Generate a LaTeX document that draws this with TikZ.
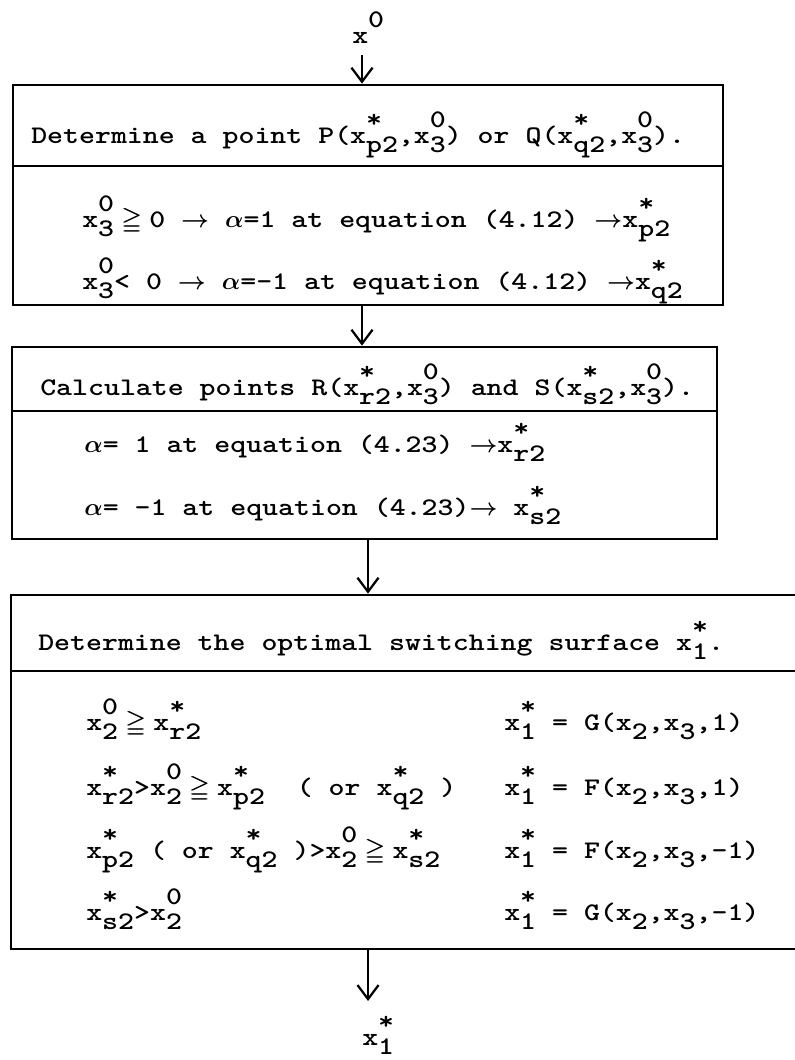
\documentclass[tikz,border=0pt]{standalone}
\usepackage{amssymb}
\usepackage{fontspec}
\newfontfamily\twfam{lmmonolt10-bold}[Extension=.otf,FakeStretch=1.2]
\usetikzlibrary{arrows.meta,fit}
\newcommand{\twfont}{\twfam\fontsize{18}{22}\selectfont\boldmath}
\newcommand{\xvar}[2]{x\rlap{\raisebox{.62em}{#1}}\raisebox{-.38em}{#2}}
\newcommand{\xsub}[1]{x\raisebox{-.38em}{#1}}
\newcommand{\xsup}[1]{x\raisebox{.62em}{#1}}
\newcommand{\twar}{$\rightarrow$}
\newcommand{\twal}{$\alpha$}
\newcommand{\twge}{\makebox[1.39em]{\rlap{$\geqq$}\hspace{.04em}$\geqq$}}

\begin{document}
\begin{tikzpicture}[x=0.025cm,y=-0.025cm,
        box/.style={draw,line width=2pt,inner sep=0pt},
        tw/.style={font=\twfont,anchor=base west,inner sep=0pt},
        arr/.style={line width=1.6pt,-{Straight Barb[length=10pt,width=15pt]}}]
        \useasboundingbox (0,0) rectangle (795,1060);
        \clip (0,0) rectangle (795,1060);
        \coordinate (ca) at (362,0);
        \coordinate (cb) at (368,0);

        \node (x0) at (352,43) [tw] {\xsup{0}};

        \node (t1) [box,fit={(13,85) (723,166)}] {};
        \node (b1) [box,fit={(13,166) (723,305)}] {};
        \node (t1txt) at (31,143) [tw] {Determine a point P(\xvar{*}{p2},\xvar{0}{3}) or Q(\xvar{*}{q2},\xvar{0}{3}).};
        \node (b1r1) at (82,227) [tw] {\xvar{0}{3}\twge0 \twar{} \twal=1 at equation (4.12) \twar{}\xvar{*}{p2}};
        \node (b1r2) at (82,289) [tw] {\xvar{0}{3}< 0 \twar{} \twal=-1 at equation (4.12) \twar\xvar{*}{q2}};

        \node (t2) [box,fit={(12,347) (717,411)}] {};
        \node (b2) [box,fit={(12,411) (717,539)}] {};
        \node (t2txt) at (40,395) [tw] {Calculate points R(\xvar{*}{r2},\xvar{0}{3}) and S(\xvar{*}{s2},\xvar{0}{3}).};
        \node (b2r1) at (84,452) [tw] {\twal= 1 at equation (4.23) \twar\xvar{*}{r2}};
        \node (b2r2) at (84,515) [tw] {\twal= -1 at equation (4.23)\twar{} \xvar{*}{s2}};

        \node (t3) [box,fit={(11,595) (840,671)}] {};
        \node (b3) [box,fit={(11,671) (840,949)}] {};
        \node (t3txt) at (38,650) [tw] {Determine the optimal switching surface \xvar{*}{1}.};
        \node (l1) at (86,730) [tw] {\xvar{0}{2}\twge\xvar{*}{r2}};
        \node (l2) at (86,795) [tw] {\xvar{*}{r2}>\xvar{0}{2}\twge\xvar{*}{p2}\ \ ( or \xvar{*}{q2} )};
        \node (l3) at (86,858) [tw] {\xvar{*}{p2} ( or \xvar{*}{q2} )>\xvar{0}{2}\twge\xvar{*}{s2}};
        \node (l4) at (86,920) [tw] {\xvar{*}{s2}>\xvar{0}{2}};
        \node (r1) at (504,730) [tw] {\xvar{*}{1} = G(\xsub{2},\xsub{3},1)};
        \node (r2) at (504,795) [tw] {\xvar{*}{1} = F(\xsub{2},\xsub{3},1)};
        \node (r3) at (504,858) [tw] {\xvar{*}{1} = F(\xsub{2},\xsub{3},-1)};
        \node (r4) at (504,920) [tw] {\xvar{*}{1} = G(\xsub{2},\xsub{3},-1)};

        \node (x1) at (362,1045) [tw] {\xvar{*}{1}};

        \draw[arr,shorten <=0.3cm] (x0.south -| ca) -- (t1.north -| ca);
        \draw[arr] (b1.south -| ca) -- (t2.north -| ca);
        \draw[arr] (b2.south -| cb) -- (t3.north -| cb);
        \draw[arr,shorten >=0.37cm] (b3.south -| cb) -- (x1.north -| cb);
\end{tikzpicture}
\end{document}
